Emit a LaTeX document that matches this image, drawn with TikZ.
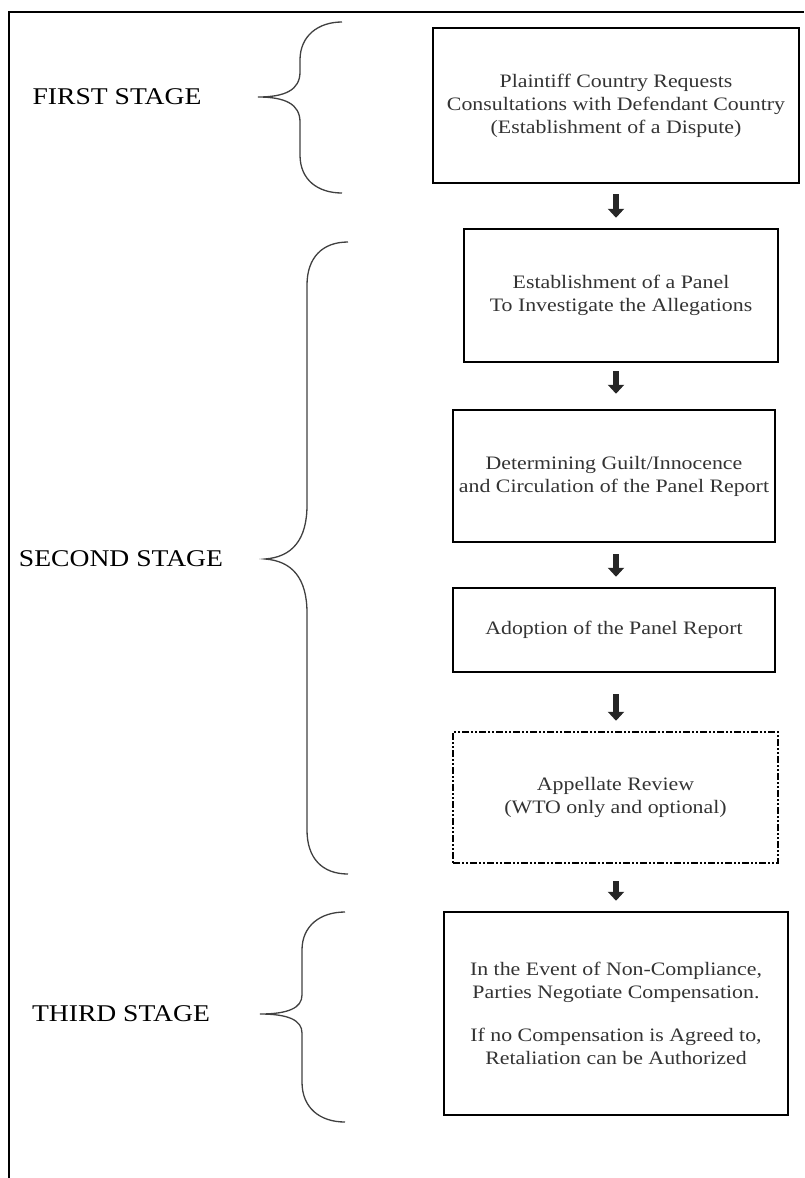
\documentclass[tikz,border=0pt]{standalone}
\usepackage{fontspec}
\setmainfont[FakeStretch=1.15]{Liberation Serif}
\usetikzlibrary{arrows.meta}

\begin{document}
\begin{tikzpicture}[x=1pt, y=-1pt,
    stagebox/.style={draw, line width=2.5pt, align=center, text=black!80, font=\fontsize{19}{23}\selectfont},
    stagelabel/.style={font=\fontsize{24}{27}\selectfont},
    downarrow/.style={line width=6pt, black!85, -{Triangle[width=16pt, length=9pt]}},
    stagebrace/.style={line width=1.3pt, black!75}]
  \useasboundingbox (0, 0) rectangle (804, 1178);
  \draw [line width=1.5pt] (9, 1178) -- (9, 12) -- (804, 12);

  \node [stagebox, minimum width=366pt, minimum height=155pt] (consult) at (616, 105.5) {Plaintiff Country Requests\\Consultations with Defendant Country\\(Establishment of a Dispute)};
  \node [stagebox, minimum width=314pt, minimum height=133pt] (panel) at (621, 295.5) {Establishment of a Panel\\To Investigate the Allegations};
  \node [stagebox, minimum width=322pt, minimum height=132pt] (guilt) at (614, 476) {Determining Guilt/Innocence\\and Circulation of the Panel Report};
  \node [stagebox, minimum width=322pt, minimum height=84pt] (adopt) at (614, 630) {Adoption of the Panel Report};
  \node [stagebox, dash pattern=on 7pt off 2pt on 2pt off 2pt on 2pt off 2pt, minimum width=325pt, minimum height=131pt] (appeal) at (615.5, 797.5) {Appellate Review\\(WTO only and optional)};
  \node [stagebox, minimum width=344pt, minimum height=203pt] (retal) at (616, 1013.5) {In the Event of Non-Compliance,\\Parties Negotiate Compensation.\\[20pt]If no Compensation is Agreed to,\\Retaliation can be Authorized};

  \draw [downarrow, shorten <=10pt, shorten >=10pt] (consult.south) -- (consult.south |- panel.north);
  \draw [downarrow, shorten <=8pt, shorten >=15pt] (consult.south |- panel.south) -- (consult.south |- guilt.north);
  \draw [downarrow, shorten <=11pt, shorten >=10pt] (consult.south |- guilt.south) -- (consult.south |- adopt.north);
  \draw [downarrow, shorten <=21pt, shorten >=10pt] (consult.south |- adopt.south) -- (consult.south |- appeal.north);
  \draw [downarrow, shorten <=17pt, shorten >=10pt] (consult.south |- appeal.south) -- (consult.south |- retal.north);

  \node [stagelabel] (first) at (117, 97) {FIRST STAGE};
  \node [stagelabel] (second) at (121, 559) {SECOND STAGE};
  \node [stagelabel] (third) at (121, 1014) {THIRD STAGE};

  \draw [stagebrace] (342, 22) .. controls (318, 22) and (300, 36) .. (300, 60) -- (300, 72)
    .. controls (300, 90) and (285, 97) .. (258, 97) .. controls (285, 97) and (300, 104) .. (300, 122)
    -- (300, 155) .. controls (300, 180) and (318, 193) .. (342, 193);
  \draw [stagebrace] (348, 242) .. controls (322, 242) and (307, 258) .. (307, 285) -- (307, 505)
    .. controls (307, 540) and (292, 557) .. (265, 559) .. controls (292, 561) and (307, 578) .. (307, 613)
    -- (307, 830) .. controls (307, 858) and (322, 874) .. (348, 874);
  \draw [stagebrace] (345, 912) .. controls (320, 912) and (302, 926) .. (302, 950) -- (302, 995)
    .. controls (302, 1008) and (288, 1014) .. (260, 1014) .. controls (288, 1014) and (302, 1020) .. (302, 1033)
    -- (302, 1082) .. controls (302, 1108) and (320, 1122) .. (345, 1122);
\end{tikzpicture}
\end{document}
